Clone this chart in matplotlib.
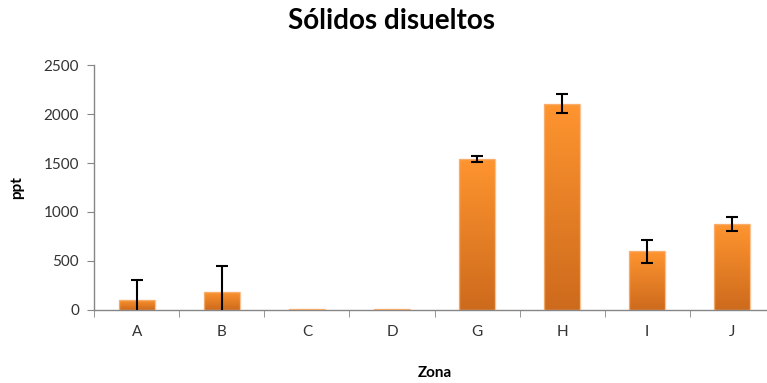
import numpy as np
import matplotlib
matplotlib.use("Agg")
import matplotlib.pyplot as plt
from matplotlib.colors import LinearSegmentedColormap

zonas = ["A", "B", "C", "D", "G", "H", "I", "J"]
valores = [105, 187, 10, 10, 1545, 2105, 598, 878]
errores = [200, 260, 0, 0, 30, 97, 120, 75]

plt.rcParams["font.family"] = ["Lato", "DejaVu Sans"]

fig = plt.figure(figsize=(7.67, 3.83), dpi=100)
ax = fig.add_axes([0.123, 0.191, 0.887, 0.639])

x = np.arange(len(zonas))
width = 0.42
bars = ax.bar(x, valores, width=width, color="#F28A2A", edgecolor="none", zorder=2)

# vertical orange gradient inside each bar
cmap = LinearSegmentedColormap.from_list("naranja", ["#CD6A1C", "#FF9530"])
grad = np.linspace(0, 1, 256).reshape(-1, 1)
for b in bars:
    x0, y0 = b.get_x(), b.get_y()
    w, h = b.get_width(), b.get_height()
    im = ax.imshow(grad, cmap=cmap, aspect="auto", origin="lower",
                   extent=[x0, x0 + w, y0, y0 + h], zorder=2.5)
    im.set_clip_path(b)
    # soft outline around bar
    ax.add_patch(plt.Rectangle((x0, y0), w, h, fill=False, edgecolor="#F7B57A",
                               linewidth=1.0, zorder=2.6, alpha=0.8))

# error bars only where a deviation was reported
err = np.array(errores)
con_error = err > 0
ax.errorbar(x[con_error], np.array(valores)[con_error], yerr=err[con_error],
            fmt="none", ecolor="black", elinewidth=1.5, capsize=4, capthick=1.5,
            zorder=3)

ax.set_xlim(-0.5, len(zonas) - 0.5)
ax.set_ylim(0, 2500)
ax.set_yticks([0, 500, 1000, 1500, 2000, 2500])

ax.set_xticks(x)
ax.set_xticklabels(zonas)
ax.set_xticks(np.arange(-0.5, len(zonas), 1.0), minor=True)
ax.tick_params(axis="x", which="major", length=0, pad=11, labelsize=11, labelcolor="#333333")
ax.tick_params(axis="x", which="minor", length=5, direction="out", color="#868686")
ax.tick_params(axis="y", length=5, direction="out", color="#868686", labelsize=11,
               labelcolor="#333333", pad=6)

for s in ["top", "right"]:
    ax.spines[s].set_visible(False)
for s in ["left", "bottom"]:
    ax.spines[s].set_color("#868686")
    ax.spines[s].set_linewidth(1.0)

ax.set_ylabel("ppt", fontsize=11, fontweight="bold", labelpad=14)
ax.set_xlabel("Zona", fontsize=11, fontweight="bold", labelpad=19)
fig.suptitle("Sólidos disueltos", fontsize=20, fontweight="bold", x=0.511, y=0.98)

fig.savefig("out.png", dpi=100)
